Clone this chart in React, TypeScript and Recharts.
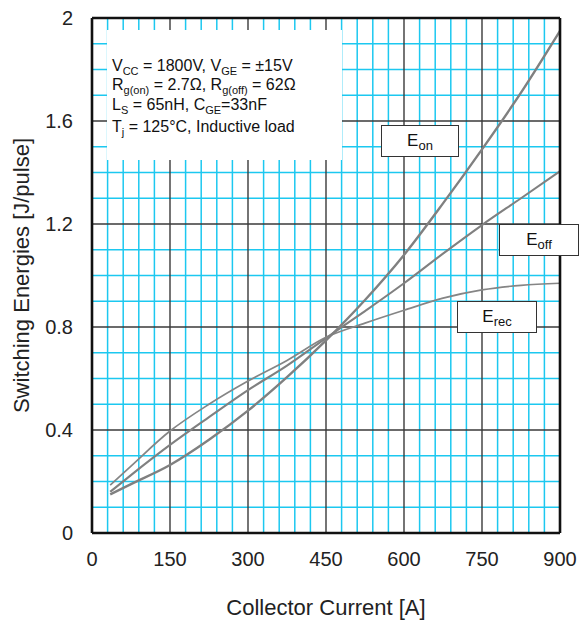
import { LineChart, Line, XAxis, YAxis, ReferenceLine } from "recharts";

const currents = [35, 75, 150, 225, 300, 375, 450, 525, 600, 675, 750, 825, 900];
const eOn = [0.15, 0.19, 0.264, 0.362, 0.475, 0.605, 0.748, 0.905, 1.08, 1.28, 1.49, 1.71, 1.95];
const eOff = [0.16, 0.225, 0.342, 0.45, 0.555, 0.65, 0.757, 0.862, 0.97, 1.085, 1.196, 1.3, 1.405];
const eRec = [0.186, 0.26, 0.396, 0.5, 0.59, 0.67, 0.76, 0.815, 0.865, 0.912, 0.944, 0.962, 0.97];

const xTicks = [0, 150, 300, 450, 600, 750, 900];
const yTicks = [0, 0.4, 0.8, 1.2, 1.6, 2];
const minorX = [30, 60, 90, 120, 180, 210, 240, 270, 330, 360, 390, 420, 480, 510, 540, 570, 630, 660, 690, 720, 780, 810, 840, 870];
const majorX = [150, 300, 450, 600, 750];
const minorY = [0.1, 0.2, 0.3, 0.5, 0.6, 0.7, 0.9, 1.0, 1.1, 1.3, 1.4, 1.5, 1.7, 1.8, 1.9];
const majorY = [0.4, 0.8, 1.2, 1.6];

const data = currents.map((c, i) => ({ ic: c, eon: eOn[i], eoff: eOff[i], erec: eRec[i] }));

const FONT = "Arial, 'Liberation Sans', sans-serif";
const CYAN = "#1cc8f0";
const MAJOR = "#3a3a3a";

function Sub({ children, size = 11 }: { children: string; size?: number }) {
  return (
    <span style={{ fontSize: size, position: "relative", top: size * 0.35 }}>{children}</span>
  );
}

function LabelBox({ left, top, width, name, sub }: { left: number; top: number; width: number; name: string; sub: string }) {
  return (
    <div
      style={{
        position: "absolute",
        left,
        top,
        width,
        height: 32,
        boxSizing: "border-box",
        border: "1.5px solid #333",
        background: "#fff",
        display: "flex",
        alignItems: "center",
        justifyContent: "center",
        fontSize: 17,
        color: "#111",
        lineHeight: 1,
      }}
    >
      <span style={{ position: "relative", top: -1 }}>
        {name}
        <Sub size={13}>{sub}</Sub>
      </span>
    </div>
  );
}

const noteLine = (top: number): React.CSSProperties => ({
  position: "absolute",
  left: 112,
  top,
  fontSize: 16,
  color: "#111",
  whiteSpace: "nowrap",
  lineHeight: "18px",
});

export default function App() {
  return (
    <div style={{ position: "absolute", left: 0, top: 0, width: 581, height: 621, background: "#fff", fontFamily: FONT }}>
      <LineChart width={581} height={621} data={data} margin={{ top: 18, right: 21, bottom: 0, left: 0 }}>
        <XAxis
          dataKey="ic"
          type="number"
          domain={[0, 900]}
          ticks={xTicks}
          height={88}
          tickLine={false}
          axisLine={false}
          tickMargin={13}
          tick={{ fontSize: 20, fill: "#222", fontFamily: FONT }}
          label={{ value: "Collector Current [A]", position: "insideBottom", offset: 6, fontSize: 22, fill: "#222", fontFamily: FONT }}
        />
        <YAxis
          type="number"
          domain={[0, 2]}
          ticks={yTicks}
          width={92}
          tickLine={false}
          axisLine={false}
          tickMargin={13}
          tickFormatter={(v: number) => String(v)}
          tick={{ fontSize: 20, fill: "#222", fontFamily: FONT }}
          label={{
            value: "Switching Energies [J/pulse]",
            angle: -90,
            position: "center",
            dx: -25,
            fontSize: 22,
            fill: "#222",
            fontFamily: FONT,
          }}
        />
        {minorX.map((v) => (
          <ReferenceLine key={"mx" + v} x={v} stroke={CYAN} strokeWidth={1.5} />
        ))}
        {minorY.map((v) => (
          <ReferenceLine key={"my" + v} y={v} stroke={CYAN} strokeWidth={1.5} />
        ))}
        {majorX.map((v) => (
          <ReferenceLine key={"Mx" + v} x={v} stroke={MAJOR} strokeWidth={1.4} />
        ))}
        {majorY.map((v) => (
          <ReferenceLine key={"My" + v} y={v} stroke={MAJOR} strokeWidth={1.4} />
        ))}
        <Line type="monotone" dataKey="erec" stroke="#858585" strokeWidth={1.7} dot={false} isAnimationActive={false} />
        <Line type="monotone" dataKey="eoff" stroke="#808080" strokeWidth={2.1} dot={false} isAnimationActive={false} />
        <Line type="monotone" dataKey="eon" stroke="#808080" strokeWidth={2.4} dot={false} isAnimationActive={false} />
        <ReferenceLine x={0} stroke="#111" strokeWidth={2.6} />
        <ReferenceLine x={900} stroke="#111" strokeWidth={2.6} />
        <ReferenceLine y={0} stroke="#111" strokeWidth={2.6} />
        <ReferenceLine y={2} stroke="#111" strokeWidth={2.6} />
      </LineChart>

      <div style={{ position: "absolute", left: 107, top: 30, width: 235, height: 130, background: "#fff" }} />
      <div style={noteLine(57)}>
        V<Sub>CC</Sub> = 1800V, V<Sub>GE</Sub> = ±15V
      </div>
      <div style={noteLine(76)}>
        R<Sub>g(on)</Sub> = 2.7Ω, R<Sub>g(off)</Sub> = 62Ω
      </div>
      <div style={noteLine(96)}>
        L<Sub>S</Sub> = 65nH, C<Sub>GE</Sub>=33nF
      </div>
      <div style={noteLine(118)}>
        T<Sub>j</Sub> = 125°C, Inductive load
      </div>

      <LabelBox left={381} top={125} width={78} name="E" sub="on" />
      <LabelBox left={499} top={224} width={80} name="E" sub="off" />
      <LabelBox left={457} top={301} width={80} name="E" sub="rec" />
    </div>
  );
}
